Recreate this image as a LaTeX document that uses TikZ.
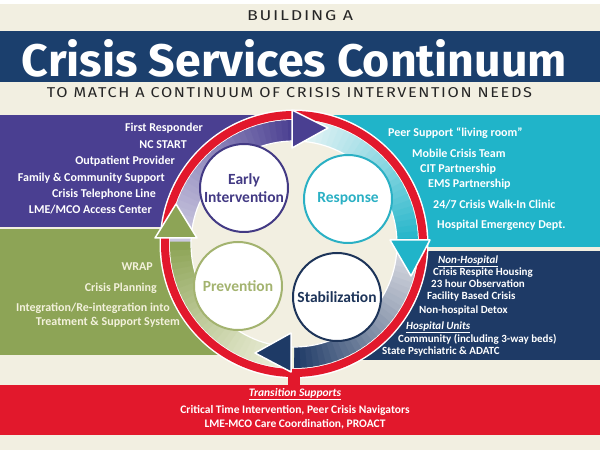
\documentclass[tikz,border=0pt]{standalone}
\usepackage{fontspec}
\usepackage{graphicx}
\setmainfont{Carlito}
\newfontfamily\hdrfont{Fira Sans}[LetterSpace=10]
\newfontfamily\titlefont{Fira Sans}
\usetikzlibrary{calc}
\definecolor{cream}{HTML}{F2EFE1}
\definecolor{banner}{HTML}{1B3F6D}
\definecolor{hdrgray}{HTML}{262626}
\definecolor{purp}{HTML}{4A3F91}
\definecolor{purppale}{HTML}{CBC8E0}
\definecolor{cyanp}{HTML}{20B4C9}
\definecolor{cyanpale}{HTML}{E8F5F6}
\definecolor{navyp}{HTML}{1E3A66}
\definecolor{navypale}{HTML}{D8DAE1}
\definecolor{greenp}{HTML}{8DA456}
\definecolor{greenpale}{HTML}{EEF0DC}
\definecolor{redc}{HTML}{E2182C}
\definecolor{greentext}{HTML}{F3F1DC}
\definecolor{earlyc}{HTML}{433A84}
\definecolor{respc}{HTML}{2AB0C4}
\definecolor{prevc}{HTML}{A3B36F}
\definecolor{stabc}{HTML}{1D3459}
\newcommand\bandseg[4]{%
  \foreach \i in {0,...,29}{%
    \pgfmathsetmacro\sa{#1+(#2-#1)*\i/30}%
    \pgfmathsetmacro\ea{#1+(#2-#1)*(\i+1.4)/30}%
    \pgfmathtruncatemacro\p{100*(\i/29)^1.2}%
    \draw[line width=21pt, #3!\p!#4] ($(C)+(\sa:113.5)$) arc[start angle=\sa, end angle=\ea, radius=113.5];
  }}
\begin{document}
\begin{tikzpicture}[x=1pt,y=1pt,
  ptxt/.style={text=white, inner sep=0pt, font=\bfseries\fontsize{12}{14}\selectfont},
  ntxt/.style={text=white, inner sep=0pt, font=\bfseries\fontsize{11}{13}\selectfont},
  gtxt/.style={text=greentext, inner sep=0pt, font=\bfseries\fontsize{12}{14}\selectfont},
  rtxt/.style={text=white, inner sep=0pt, font=\bfseries\fontsize{11.5}{13}\selectfont},
  circ/.style={circle, fill=white, line width=2pt, minimum size=88pt, inner sep=0pt, align=center,
    font=\bfseries\fontsize{15.5}{18}\selectfont},
  arrowhd/.style={line width=1.5pt, draw=white, line join=round}]
\useasboundingbox (0,0) rectangle (600,450);
\fill[cream] (0,0) rectangle (600,450);
\fill[white] (0,446) rectangle (600,450);
% header
\node[inner sep=0pt, text=hdrgray] (bld) at (300,434) {\resizebox{106pt}{10pt}{\hdrfont BUILDING A}};
\fill[banner] (0,368) rectangle (600,419);
\node[inner sep=0pt, text=white] (title) at (294.5,391.5) {\resizebox{545pt}{37pt}{\titlefont\bfseries Crisis Services Continuum}};
\node[inner sep=0pt, text=hdrgray] (sub) at (289.5,357) {\resizebox{485pt}{10pt}{\hdrfont TO MATCH A CONTINUUM OF CRISIS INTERVENTION NEEDS}};
% panels
\fill[purp] (0,223) rectangle (300,335);
\fill[cyanp] (300,203) rectangle (600,335);
\fill[navyp] (300,90) rectangle (600,199);
\fill[greenp] (0,95) rectangle (270,221);
\fill[redc] (0,15) rectangle (600,65);
% ring
\coordinate (C) at (294,206);
\draw[white, line width=11pt] (C) circle (129);
\fill[cream] (C) circle (124);
\bandseg{180}{90}{purp}{purppale}
\bandseg{90}{0}{cyanp}{cyanpale}
\bandseg{0}{-90}{navyp}{navypale}
\bandseg{-90}{-180}{greenp}{greenpale}
\draw[white, line width=1.2pt] (C) circle (103);
\draw[redc, line width=8pt] (C) circle (129);
\fill[redc] (288,62) rectangle (300,80);
% arrowheads
\filldraw[arrowhd, fill=purp] (292,340) -- (292,302) -- (328,322) -- cycle;
\filldraw[arrowhd, fill=cyanp] (390,210) -- (430,210) -- (411,174) -- cycle;
\filldraw[arrowhd, fill=navyp] (291,117) -- (291,78) -- (255,97) -- cycle;
\filldraw[arrowhd, fill=greenp] (155,212) -- (197,212) -- (176,246) -- cycle;
% circles
\node[circ, draw=earlyc, text=earlyc] (early) at (244,262) {Early\\Intervention};
\node[circ, draw=respc, text=respc] (resp) at (348,251) {Response};
\node[circ, draw=prevc, text=prevc] (prev) at (238,164) {Prevention};
\node[circ, draw=stabc, text=stabc] (stab) at (337,153) {Stabilization};
% purple panel text
\node[ptxt, anchor=mid east] (p1) at (203,321) {First Responder};
\node[ptxt, anchor=mid east] (p2) at (187,304) {NC START};
\node[ptxt, anchor=mid east] (p3) at (175,288) {Outpatient Provider};
\node[ptxt, anchor=mid east] (p4) at (165,271) {Family \& Community Support};
\node[ptxt, anchor=mid east] (p5) at (156,255) {Crisis Telephone Line};
\node[ptxt, anchor=mid east] (p6) at (152,239) {LME/MCO Access Center};
% cyan panel text
\node[ptxt, anchor=mid west] (c1) at (388,316) {Peer Support ``living room''};
\node[ptxt, anchor=mid west] (c2) at (412,295) {Mobile Crisis Team};
\node[ptxt, anchor=mid west] (c3) at (420,280) {CIT Partnership};
\node[ptxt, anchor=mid west] (c4) at (428,265) {EMS Partnership};
\node[ptxt, anchor=mid west] (c5) at (433,244) {24/7 Crisis Walk-In Clinic};
\node[ptxt, anchor=mid west] (c6) at (437,224) {Hospital Emergency Dept.};
% navy panel text
\node[ntxt, anchor=mid west] (n1) at (438,189) {\itshape\underline{Non-Hospital}};
\node[ntxt, anchor=mid west] (n2) at (433,177) {Crisis Respite Housing};
\node[ntxt, anchor=mid west] (n3) at (431,165) {23 hour Observation};
\node[ntxt, anchor=mid west] (n4) at (427,153) {Facility Based Crisis};
\node[ntxt, anchor=mid west] (n5) at (419,139) {Non-hospital Detox};
\node[ntxt, anchor=mid west] (n6) at (406,123) {\itshape\underline{Hospital Units}};
\node[ntxt, anchor=mid west] (n7) at (398,110) {Community (including 3-way beds)};
\node[ntxt, anchor=mid west] (n8) at (382,98) {State Psychiatric \& ADATC};
% green panel text
\node[gtxt, anchor=mid east] (g1) at (153,182) {WRAP};
\node[gtxt, anchor=mid east] (g2) at (157,161) {Crisis Planning};
\node[gtxt, anchor=mid east] (g3) at (170,141) {Integration/Re-integration into};
\node[gtxt, anchor=mid east] (g4) at (180,127) {Treatment \& Support System};
% red band text
\node[rtxt] (r1) at (295,56) {\itshape\underline{Transition Supports}};
\node[rtxt] (r2) at (295,40) {Critical Time Intervention, Peer Crisis Navigators};
\node[rtxt] (r3) at (295,26) {LME-MCO Care Coordination, PROACT};
\end{tikzpicture}
\end{document}
